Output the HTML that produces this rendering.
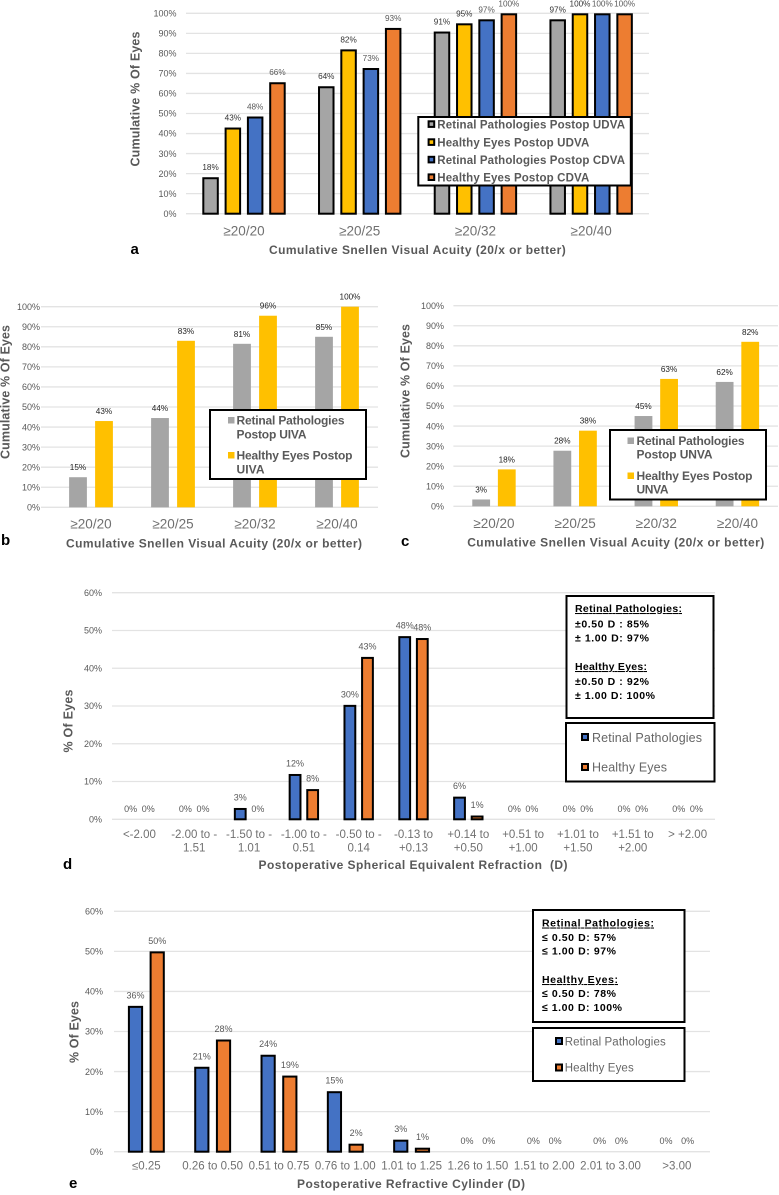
<!DOCTYPE html>
<html lang="en">
<head>
<meta charset="utf-8">
<title>Visual outcomes charts</title>
<style>
html,body{margin:0;padding:0;background:#fff;}
svg{display:block;font-family:"Liberation Sans",Arial,sans-serif;}
.tick{font-size:9px;fill:#595959;text-anchor:end;}
.cat{fill:#707070;text-anchor:middle;}
.xt{font-size:12px;font-weight:bold;fill:#595959;text-anchor:middle;}
.yt{font-size:12.5px;font-weight:bold;fill:#595959;text-anchor:middle;}
.panel{font-size:15px;font-weight:bold;fill:#000;}
.lg{font-size:11.5px;font-weight:bold;fill:#595959;}
.lg2{font-size:12px;font-weight:bold;fill:#595959;}
.lgn{fill:#666;}
.info{font-size:10.5px;font-weight:bold;fill:#000;}
.box{fill:#fff;stroke:#000;stroke-width:2;}
</style>
</head>
<body>
<svg id="figure" xmlns="http://www.w3.org/2000/svg" width="779" height="1195" viewBox="0 0 779 1195">
  <rect width="779" height="1195" fill="#fff"/>

  <g id="chart-a"></g>
  <g>
    <rect class="box" x="418.3" y="117" width="212.5" height="68.5"/>
    <rect x="428.6" y="121.3" width="5.6" height="5.6" fill="#a5a5a5" stroke="#000" stroke-width="2"/>
    <text class="lg" x="437.3" y="128.3" textLength="187.7" lengthAdjust="spacing">Retinal Pathologies Postop UDVA</text>
    <rect x="428.6" y="139.3" width="5.6" height="5.6" fill="#ffc000" stroke="#000" stroke-width="2"/>
    <text class="lg" x="437.3" y="146.3" textLength="152" lengthAdjust="spacing">Healthy Eyes Postop UDVA</text>
    <rect x="428.6" y="156.8" width="5.6" height="5.6" fill="#4472c4" stroke="#000" stroke-width="2"/>
    <text class="lg" x="437.3" y="163.8" textLength="187.7" lengthAdjust="spacing">Retinal Pathologies Postop CDVA</text>
    <rect x="428.6" y="174.4" width="5.6" height="5.6" fill="#ed7d31" stroke="#000" stroke-width="2"/>
    <text class="lg" x="437.3" y="181.3" textLength="152" lengthAdjust="spacing">Healthy Eyes Postop CDVA</text>
  </g>
  <text class="panel" x="130.5" y="254">a</text>

  <g id="chart-b"></g>
  <g>
    <rect class="box" x="210" y="410" width="156" height="69"/>
    <rect x="228" y="417" width="6.5" height="6.5" fill="#a5a5a5"/>
    <text class="lg2" x="236.5" y="424.5" textLength="108" lengthAdjust="spacing">Retinal Pathologies</text>
    <text class="lg2" x="236.5" y="438.5" textLength="70" lengthAdjust="spacing">Postop UIVA</text>
    <rect x="228" y="452" width="6.5" height="6.5" fill="#ffc000"/>
    <text class="lg2" x="236.5" y="459.5" textLength="116" lengthAdjust="spacing">Healthy Eyes Postop</text>
    <text class="lg2" x="236.5" y="473.5" textLength="28" lengthAdjust="spacing">UIVA</text>
  </g>
  <text class="panel" x="1" y="545">b</text>

  <g id="chart-c"></g>
  <g>
    <rect class="box" x="610" y="430" width="156" height="69.5"/>
    <rect x="627.5" y="437.5" width="6.5" height="6.5" fill="#a5a5a5"/>
    <text class="lg2" x="636.5" y="445" textLength="108" lengthAdjust="spacing">Retinal Pathologies</text>
    <text class="lg2" x="636.5" y="458.5" textLength="76" lengthAdjust="spacing">Postop UNVA</text>
    <rect x="627.5" y="472.5" width="6.5" height="6.5" fill="#ffc000"/>
    <text class="lg2" x="636.5" y="480" textLength="116" lengthAdjust="spacing">Healthy Eyes Postop</text>
    <text class="lg2" x="636.5" y="493.5" textLength="32" lengthAdjust="spacing">UNVA</text>
  </g>
  <text class="panel" x="401" y="546">c</text>

  <g id="chart-d"></g>
  <g>
    <rect class="box" x="566.5" y="596" width="147" height="122"/>
    <text class="info" x="575" y="612" textLength="107" lengthAdjust="spacing" text-decoration="underline">Retinal Pathologies:</text>
    <text class="info" x="575" y="627.5" textLength="74" lengthAdjust="spacing">±0.50 D : 85%</text>
    <text class="info" x="575" y="641.5" textLength="74" lengthAdjust="spacing">± 1.00 D: 97%</text>
    <text class="info" x="575" y="670" textLength="72" lengthAdjust="spacing" text-decoration="underline">Healthy Eyes:</text>
    <text class="info" x="575" y="685" textLength="74" lengthAdjust="spacing">±0.50 D : 92%</text>
    <text class="info" x="575" y="699" textLength="80" lengthAdjust="spacing">± 1.00 D: 100%</text>
  </g>
  <g>
    <rect class="box" x="566" y="723" width="148.5" height="58.5"/>
    <rect x="582" y="734" width="6" height="6" fill="#4472c4" stroke="#000" stroke-width="2"/>
    <text class="lgn" x="592" y="742" font-size="12.5" textLength="110" lengthAdjust="spacing">Retinal Pathologies</text>
    <rect x="582" y="764" width="6" height="6" fill="#ed7d31" stroke="#000" stroke-width="2"/>
    <text class="lgn" x="592" y="771.5" font-size="12.5" textLength="75" lengthAdjust="spacing">Healthy Eyes</text>
  </g>
  <text class="panel" x="63" y="869">d</text>

  <g id="chart-e"></g>
  <g>
    <rect class="box" x="533" y="910" width="151.5" height="112"/>
    <text class="info" x="542" y="926.5" textLength="112" lengthAdjust="spacing" text-decoration="underline">Retinal Pathologies:</text>
    <text class="info" x="542" y="941" textLength="74" lengthAdjust="spacing">≤ 0.50 D: 57%</text>
    <text class="info" x="542" y="954.5" textLength="74" lengthAdjust="spacing">≤ 1.00 D: 97%</text>
    <text class="info" x="542" y="983" textLength="76" lengthAdjust="spacing" text-decoration="underline">Healthy Eyes:</text>
    <text class="info" x="542" y="997" textLength="74" lengthAdjust="spacing">≤ 0.50 D: 78%</text>
    <text class="info" x="542" y="1011" textLength="80" lengthAdjust="spacing">≤ 1.00 D: 100%</text>
  </g>
  <g>
    <rect class="box" x="533" y="1028" width="151.5" height="53"/>
    <rect x="556" y="1038" width="6" height="6" fill="#4472c4" stroke="#000" stroke-width="2"/>
    <text class="lgn" x="564.7" y="1045.5" font-size="11.5" textLength="101" lengthAdjust="spacing">Retinal Pathologies</text>
    <rect x="556" y="1064.5" width="6" height="6" fill="#ed7d31" stroke="#000" stroke-width="2"/>
    <text class="lgn" x="564.7" y="1071.5" font-size="11.5" textLength="69" lengthAdjust="spacing">Healthy Eyes</text>
  </g>
  <text class="panel" x="69" y="1188">e</text>
</svg>

<script>
// ---- Chart data ----
var acuityCategories = ["≥20/20", "≥20/25", "≥20/32", "≥20/40"];
var percentTicks100 = ["0%", "10%", "20%", "30%", "40%", "50%", "60%", "70%", "80%", "90%", "100%"];
var percentTicks60 = ["0%", "10%", "20%", "30%", "40%", "50%", "60%"];

var aRetinalUdva = [18.2, 63.6, 90.9, 97];
var aHealthyUdva = [43, 82, 95, 100];
var aRetinalCdva = [48.5, 72.7, 97, 100];
var aHealthyCdva = [65.6, 92.7, 100, 100];
var aRetinalUdvaLabels = ["18%", "64%", "91%", "97%"];
var aHealthyUdvaLabels = ["43%", "82%", "95%", "100%"];
var aRetinalCdvaLabels = ["48%", "73%", "97%", "100%"];
var aHealthyCdvaLabels = ["66%", "93%", "100%", "100%"];

var bRetinalUiva = [15, 44.5, 81.5, 85];
var bHealthyUiva = [43, 83, 95.5, 100];
var bRetinalUivaLabels = ["15%", "44%", "81%", "85%"];
var bHealthyUivaLabels = ["43%", "83%", "96%", "100%"];

var cRetinalUnva = [3.4, 27.7, 45, 62];
var cHealthyUnva = [18.4, 37.7, 63.5, 82];
var cRetinalUnvaLabels = ["3%", "28%", "45%", "62%"];
var cHealthyUnvaLabels = ["18%", "38%", "63%", "82%"];

var sphereCategories = ["<-2.00", "-2.00 to -|1.51", "-1.50 to -|1.01", "-1.00 to -|0.51", "-0.50 to -|0.14", "-0.13 to|+0.13", "+0.14 to|+0.50", "+0.51 to|+1.00", "+1.01 to|+1.50", "+1.51 to|+2.00", "> +2.00"];
var dRetinal = [0, 0, 3, 12, 30.3, 48.5, 6, 0, 0, 0, 0];
var dHealthy = [0, 0, 0, 8, 43, 48, 1, 0, 0, 0, 0];
var dRetinalLabels = ["0%", "0%", "3%", "12%", "30%", "48%", "6%", "0%", "0%", "0%", "0%"];
var dHealthyLabels = ["0%", "0%", "0%", "8%", "43%", "48%", "1%", "0%", "0%", "0%", "0%"];

var cylinderCategories = ["≤0.25", "0.26 to 0.50", "0.51 to 0.75", "0.76 to 1.00", "1.01 to 1.25", "1.26 to 1.50", "1.51 to 2.00", "2.01 to 3.00", ">3.00"];
var eRetinal = [36.4, 21.2, 24.2, 15.1, 3, 0, 0, 0, 0];
var eHealthy = [50, 28, 19, 2, 1, 0, 0, 0, 0];
var eRetinalLabels = ["36%", "21%", "24%", "15%", "3%", "0%", "0%", "0%", "0%"];
var eHealthyLabels = ["50%", "28%", "19%", "2%", "1%", "0%", "0%", "0%", "0%"];

// ---- Renderer ----
var SVGNS = "http://www.w3.org/2000/svg";
function make(tag, attrs, parent) {
  var node = document.createElementNS(SVGNS, tag);
  for (var k in attrs) { node.setAttribute(k, attrs[k]); }
  parent.appendChild(node);
  return node;
}

function drawChart(o) {
  var root = document.getElementById(o.id);
  var nCat = o.categories.length;
  var yMax = parseFloat(o.ticks[o.ticks.length - 1]);
  function xBand(i) { return o.plotX0 + (i + 0.5) * (o.plotX1 - o.plotX0) / nCat; }
  function yVal(v) { return o.yBase - (v / yMax) * (o.yBase - o.yTop); }

  o.ticks.forEach(function (t) {
    var y = yVal(parseFloat(t));
    var line = make("line", { x1: o.gridX0, x2: o.plotX1, y1: y, y2: y, stroke: "#e3e3e3", "stroke-width": 1.3 }, root);
    
    
    var label = make("text", { "class": "tick", x: o.tickRight, y: y + 3.2 }, root);
    label.textContent = t;
    
    
  });

  o.categories.forEach(function (c, i) {
    c.split("|").forEach(function (part, j) {
      var label = make("text", { "class": "cat", x: xBand(i), y: o.catY + j * o.catLine, "font-size": o.catSize }, root);
      label.textContent = part;
      
      
    });
  });

  var n = o.series.length;
  o.series.forEach(function (s, si) {
    s.values.forEach(function (v, i) {
      var cx = xBand(i) + (si - (n - 1) / 2) * o.pitch;
      var top = yVal(v);
      var inset = o.outline ? 1 : 0;
      var rect = make("rect", {
        x: cx - o.barW / 2 + inset,
        y: top + inset,
        width: Math.max(o.barW - 2 * inset, 0),
        height: Math.max(o.yBase - top - inset, 0),
        fill: s.color,
        stroke: (o.outline && v > 0) ? "#000" : "none",
        "stroke-width": 2
      }, root);
      if (v <= 0) { rect.setAttribute("fill", "none"); }
      
      
      var label = make("text", {
        x: cx, y: top - o.labelGap, "text-anchor": "middle",
        "font-size": o.labelSize, fill: s.labelColor
      }, root);
      label.textContent = s.labels[i];
      
      
    });
  });

  var xTitle = make("text", { "class": "xt", x: o.xTitleX, y: o.xTitleY, textLength: o.xTitleLen, lengthAdjust: "spacing" }, root);
  xTitle.textContent = o.xTitle;
  
  

  var yTitle = make("text", {
    "class": "yt", x: 0, y: 0, textLength: o.yTitleLen, lengthAdjust: "spacing",
    transform: "translate(" + o.yTitleX + "," + o.yTitleY + ") rotate(-90)"
  }, root);
  yTitle.textContent = o.yTitle;
  
  
}

var GRAY = "#a5a5a5", YELLOW = "#ffc000", BLUE = "#4472c4", ORANGE = "#ed7d31";
var ACUITY_TITLE = "Cumulative Snellen Visual Acuity (20/x or better)";

drawChart({
  id: "chart-a", categories: acuityCategories, ticks: percentTicks100,
  series: [
    { values: aRetinalUdva, labels: aRetinalUdvaLabels, color: GRAY, labelColor: "#333" },
    { values: aHealthyUdva, labels: aHealthyUdvaLabels, color: YELLOW, labelColor: "#333" },
    { values: aRetinalCdva, labels: aRetinalCdvaLabels, color: BLUE, labelColor: "#595959" },
    { values: aHealthyCdva, labels: aHealthyCdvaLabels, color: ORANGE, labelColor: "#595959" }
  ],
  gridX0: 186, plotX0: 186.15, plotX1: 649, yTop: 13.3, yBase: 213.7, tickRight: 176.5,
  barW: 16.5, pitch: 22.3, outline: true, labelSize: 8.2, labelGap: 7,
  catY: 235.5, catLine: 0, catSize: 13.5,
  xTitle: ACUITY_TITLE, xTitleX: 417.4, xTitleY: 254, xTitleLen: 296.7,
  yTitle: "Cumulative % Of Eyes", yTitleX: 139.5, yTitleY: 99, yTitleLen: 135
});

drawChart({
  id: "chart-b", categories: acuityCategories, ticks: percentTicks100,
  series: [
    { values: bRetinalUiva, labels: bRetinalUivaLabels, color: GRAY, labelColor: "#222" },
    { values: bHealthyUiva, labels: bHealthyUivaLabels, color: YELLOW, labelColor: "#222" }
  ],
  gridX0: 41, plotX0: 50, plotX1: 378, yTop: 306.7, yBase: 507.3, tickRight: 40,
  barW: 17.8, pitch: 26, outline: false, labelSize: 8.2, labelGap: 7,
  catY: 528.7, catLine: 0, catSize: 13.5,
  xTitle: ACUITY_TITLE, xTitleX: 214, xTitleY: 547.5, xTitleLen: 296,
  yTitle: "Cumulative % Of Eyes", yTitleX: 9.5, yTitleY: 392, yTitleLen: 134
});

drawChart({
  id: "chart-c", categories: acuityCategories, ticks: percentTicks100,
  series: [
    { values: cRetinalUnva, labels: cRetinalUnvaLabels, color: GRAY, labelColor: "#222" },
    { values: cHealthyUnva, labels: cHealthyUnvaLabels, color: YELLOW, labelColor: "#222" }
  ],
  gridX0: 453.4, plotX0: 453.4, plotX1: 778, yTop: 305.7, yBase: 506.3, tickRight: 444,
  barW: 17.8, pitch: 25.6, outline: false, labelSize: 8.2, labelGap: 7,
  catY: 528, catLine: 0, catSize: 13.5,
  xTitle: ACUITY_TITLE, xTitleX: 615.7, xTitleY: 546.5, xTitleLen: 297,
  yTitle: "Cumulative % Of Eyes", yTitleX: 409.5, yTitleY: 391, yTitleLen: 134
});

drawChart({
  id: "chart-d", categories: sphereCategories, ticks: percentTicks60,
  series: [
    { values: dRetinal, labels: dRetinalLabels, color: BLUE, labelColor: "#595959" },
    { values: dHealthy, labels: dHealthyLabels, color: ORANGE, labelColor: "#595959" }
  ],
  gridX0: 112, plotX0: 112, plotX1: 715, yTop: 592.7, yBase: 819.3, tickRight: 102,
  barW: 12.8, pitch: 17.6, outline: true, labelSize: 9, labelGap: 7.5,
  catY: 838, catLine: 13.3, catSize: 11.5,
  xTitle: "Postoperative Spherical Equivalent Refraction\u00a0\u00a0(D)", xTitleX: 413, xTitleY: 869, xTitleLen: 309,
  yTitle: "% Of Eyes", yTitleX: 72.5, yTitleY: 721, yTitleLen: 63
});

drawChart({
  id: "chart-e", categories: cylinderCategories, ticks: percentTicks60,
  series: [
    { values: eRetinal, labels: eRetinalLabels, color: BLUE, labelColor: "#595959" },
    { values: eHealthy, labels: eHealthyLabels, color: ORANGE, labelColor: "#595959" }
  ],
  gridX0: 114, plotX0: 113.2, plotX1: 710, yTop: 911.3, yBase: 1151.7, tickRight: 103,
  barW: 15.2, pitch: 21.7, outline: true, labelSize: 9, labelGap: 7.5,
  catY: 1169.5, catLine: 0, catSize: 11.5,
  xTitle: "Postoperative Refractive Cylinder (D)", xTitleX: 411, xTitleY: 1188, xTitleLen: 228,
  yTitle: "% Of Eyes", yTitleX: 78.5, yTitleY: 1032, yTitleLen: 62
});
</script>
</body>
</html>
